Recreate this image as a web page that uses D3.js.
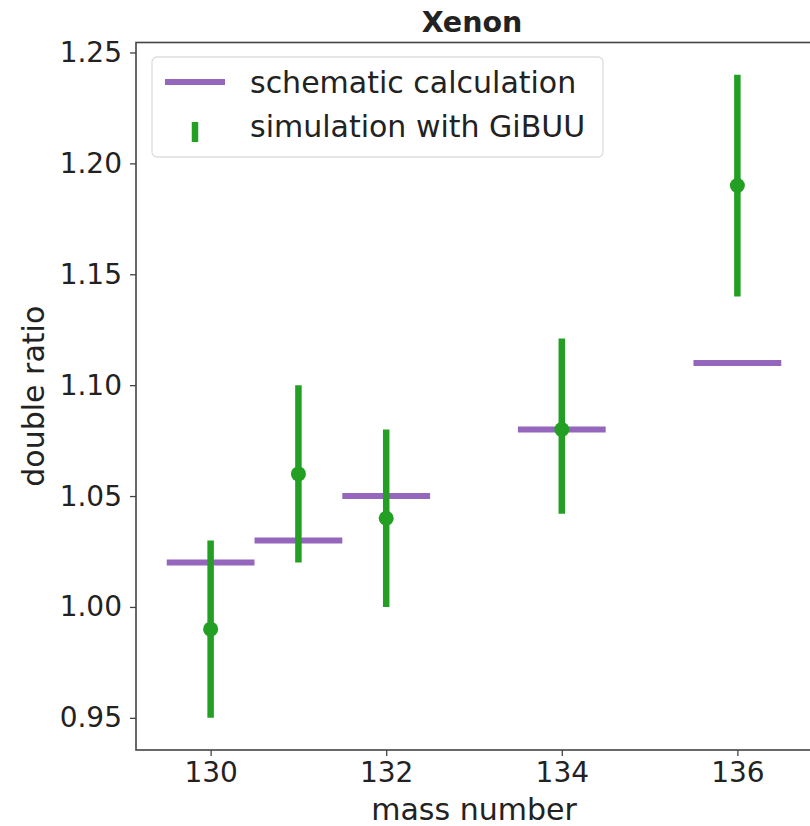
<!DOCTYPE html>
<html lang="en">
<head>
<meta charset="UTF-8">
<title>Xenon double ratio</title>
<script src="https://cdn.jsdelivr.net/npm/d3@7/dist/d3.min.js"></script>
<style>
  body { margin: 0; background: #fff; }
  text { font-family: "DejaVu Sans", sans-serif; fill: #222; }
</style>
</head>
<body>
<script>
// schematic calculation (horizontal segments, one mass unit wide)
const calcMass = [130, 131, 132, 134, 136];
const calcValue = [1.02, 1.03, 1.05, 1.08, 1.11];

// simulation with GiBUU (point + error range)
const simMass = [130, 131, 132, 134, 136];
const simValue = [0.99, 1.06, 1.04, 1.08, 1.19];
const simLow = [0.95, 1.02, 1.00, 1.042, 1.14];
const simHigh = [1.03, 1.10, 1.08, 1.121, 1.24];

const xTicks = [130, 132, 134, 136];
const yTicks = [0.95, 1.00, 1.05, 1.10, 1.15, 1.20, 1.25];

const width = 810, height = 826;
const plot = { left: 136, right: 812, top: 42.5, bottom: 750 };

const purple = "#9467bd";
const green = "#23a023";

const svg = d3.select("body").append("svg")
  .attr("width", width)
  .attr("height", height);

const x = d3.scaleLinear().domain([129.15, 136.85]).range([plot.left, plot.right]);
const y = d3.scaleLinear().domain([0.9355, 1.2545]).range([plot.bottom, plot.top]);

// axes
const xAxis = svg.append("g")
  .attr("transform", `translate(0,${plot.bottom})`)
  .call(d3.axisBottom(x).tickValues(xTicks).tickFormat(d3.format("d")).tickSize(6).tickPadding(6));
const yAxis = svg.append("g")
  .attr("transform", `translate(${plot.left},0)`)
  .call(d3.axisLeft(y).tickValues(yTicks).tickFormat(d3.format(".2f")).tickSize(6).tickPadding(8));
[xAxis, yAxis].forEach(a => {
  a.select(".domain").remove();
  a.selectAll(".tick line").attr("stroke", "#444").attr("stroke-width", 1.3);
  a.selectAll(".tick text").style("font-size", "28px").attr("fill", "#222");
});

// frame
svg.append("rect")
  .attr("x", plot.left).attr("y", plot.top)
  .attr("width", plot.right - plot.left).attr("height", plot.bottom - plot.top)
  .attr("fill", "none").attr("stroke", "#444").attr("stroke-width", 1.6);

// schematic segments
svg.selectAll(".calc")
  .data(calcMass)
  .enter().append("line")
  .attr("class", "calc")
  .attr("x1", (d) => x(d - 0.5))
  .attr("x2", (d) => x(d + 0.5))
  .attr("y1", (d, i) => y(calcValue[i]))
  .attr("y2", (d, i) => y(calcValue[i]))
  .attr("stroke", purple)
  .attr("stroke-width", 6);

// error bars
svg.selectAll(".err")
  .data(simMass)
  .enter().append("line")
  .attr("class", "err")
  .attr("x1", (d) => x(d)).attr("x2", (d) => x(d))
  .attr("y1", (d, i) => y(simLow[i]))
  .attr("y2", (d, i) => y(simHigh[i]))
  .attr("stroke", green)
  .attr("stroke-width", 6.5);

svg.selectAll(".pt")
  .data(simMass)
  .enter().append("circle")
  .attr("class", "pt")
  .attr("cx", (d) => x(d))
  .attr("cy", (d, i) => y(simValue[i]))
  .attr("r", 7.5)
  .attr("fill", green);

// legend
const lg = svg.append("g");
lg.append("rect")
  .attr("x", 152).attr("y", 57).attr("width", 451).attr("height", 100)
  .attr("rx", 5).attr("fill", "#fff").attr("fill-opacity", 0.8)
  .attr("stroke", "#ddd").attr("stroke-width", 1.3);
lg.append("line")
  .attr("x1", 165).attr("x2", 225).attr("y1", 82).attr("y2", 82)
  .attr("stroke", purple).attr("stroke-width", 6);
lg.append("line")
  .attr("x1", 195).attr("x2", 195).attr("y1", 122).attr("y2", 142)
  .attr("stroke", green).attr("stroke-width", 6.5);
lg.append("text").attr("x", 250).attr("y", 93).style("font-size", "30px").text("schematic calculation");
lg.append("text").attr("x", 250).attr("y", 137).style("font-size", "30px").text("simulation with GiBUU");

// titles
svg.append("text")
  .attr("x", 472).attr("y", 32)
  .attr("text-anchor", "middle")
  .style("font-size", "28.5px").style("font-weight", "bold")
  .text("Xenon");
svg.append("text")
  .attr("x", 474).attr("y", 820)
  .attr("text-anchor", "middle")
  .style("font-size", "30px")
  .text("mass number");
svg.append("text")
  .attr("transform", `translate(44,${(plot.top + plot.bottom) / 2}) rotate(-90)`)
  .attr("text-anchor", "middle")
  .style("font-size", "30px")
  .text("double ratio");
</script>
</body>
</html>
